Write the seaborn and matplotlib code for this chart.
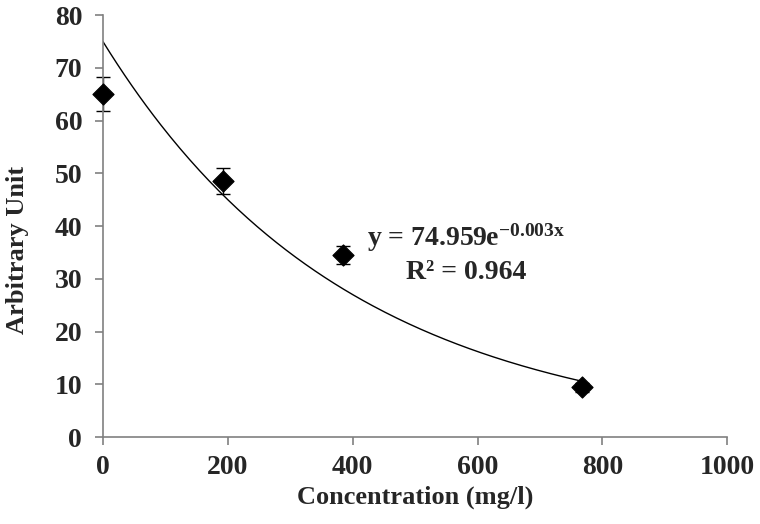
import numpy as np
import pandas as pd
import matplotlib
matplotlib.use("Agg")
import matplotlib.pyplot as plt
import seaborn as sns

# data
concentration = [0, 192, 384, 768]
arbitrary_unit = [65.0, 48.5, 34.5, 9.4]
error = [3.2, 2.5, 1.7, 0.8]

df = pd.DataFrame({"Concentration": concentration, "Unit": arbitrary_unit, "err": error})

sns.set_style("ticks")
plt.rcParams["font.family"] = ["Liberation Serif", "DejaVu Serif"]
plt.rcParams["font.weight"] = "bold"
plt.rcParams["mathtext.fontset"] = "custom"
plt.rcParams["mathtext.rm"] = "Liberation Serif:bold"
plt.rcParams["mathtext.bf"] = "Liberation Serif:bold"
plt.rcParams["mathtext.it"] = "Liberation Serif:bold"

fig = plt.figure(figsize=(7.6, 5.24), dpi=100)
ax = fig.add_axes([0.1355, 0.166, 0.8215, 0.805])

# exponential trendline fitted to the points (like the spreadsheet trendline)
b, ln_a = np.polyfit(df["Concentration"], np.log(df["Unit"]), 1)
xs = np.linspace(0, df["Concentration"].max(), 200)
ax.plot(xs, np.exp(ln_a) * np.exp(b * xs), color="black", lw=1.0, zorder=1)

eb = ax.errorbar(df["Concentration"], df["Unit"], yerr=df["err"], fmt="none",
                 ecolor="black", elinewidth=1.0, capsize=5, capthick=1.0, zorder=2)
for art in eb.lines[1] + eb.lines[2]:
    art.set_clip_on(False)
sns.scatterplot(data=df, x="Concentration", y="Unit", marker="D", s=115,
                color="black", edgecolor="black", ax=ax, zorder=3, clip_on=False)

ax.set_xlim(0, 1000)
ax.set_ylim(0, 80)
ax.set_xticks(range(0, 1001, 200))
ax.set_yticks(range(0, 81, 10))
ax.tick_params(labelsize=20, color="#808080", length=6, width=1.2)
ax.tick_params(axis="y", pad=9)
ax.tick_params(axis="x", pad=7)
for lab in ax.get_xticklabels() + ax.get_yticklabels():
    lab.set_fontweight("bold")

sns.despine(ax=ax)
for s in ["left", "bottom"]:
    ax.spines[s].set_color("#808080")
    ax.spines[s].set_linewidth(1.2)

ax.set_xlabel("Concentration (mg/l)", fontsize=19, fontweight="bold", labelpad=4)
ax.set_ylabel("Arbitrary Unit", fontsize=19, fontweight="bold")
ax.yaxis.set_label_coords(-0.118, 0.443)

ax.text(0.582, 0.472, "y = 74.959e$^{-0.003x}$", transform=ax.transAxes,
        ha="center", va="center", fontsize=20, fontweight="bold")
ax.text(0.582, 0.39, "R² = 0.964", transform=ax.transAxes,
        ha="center", va="center", fontsize=20, fontweight="bold")

fig.savefig("out.png", dpi=100)
